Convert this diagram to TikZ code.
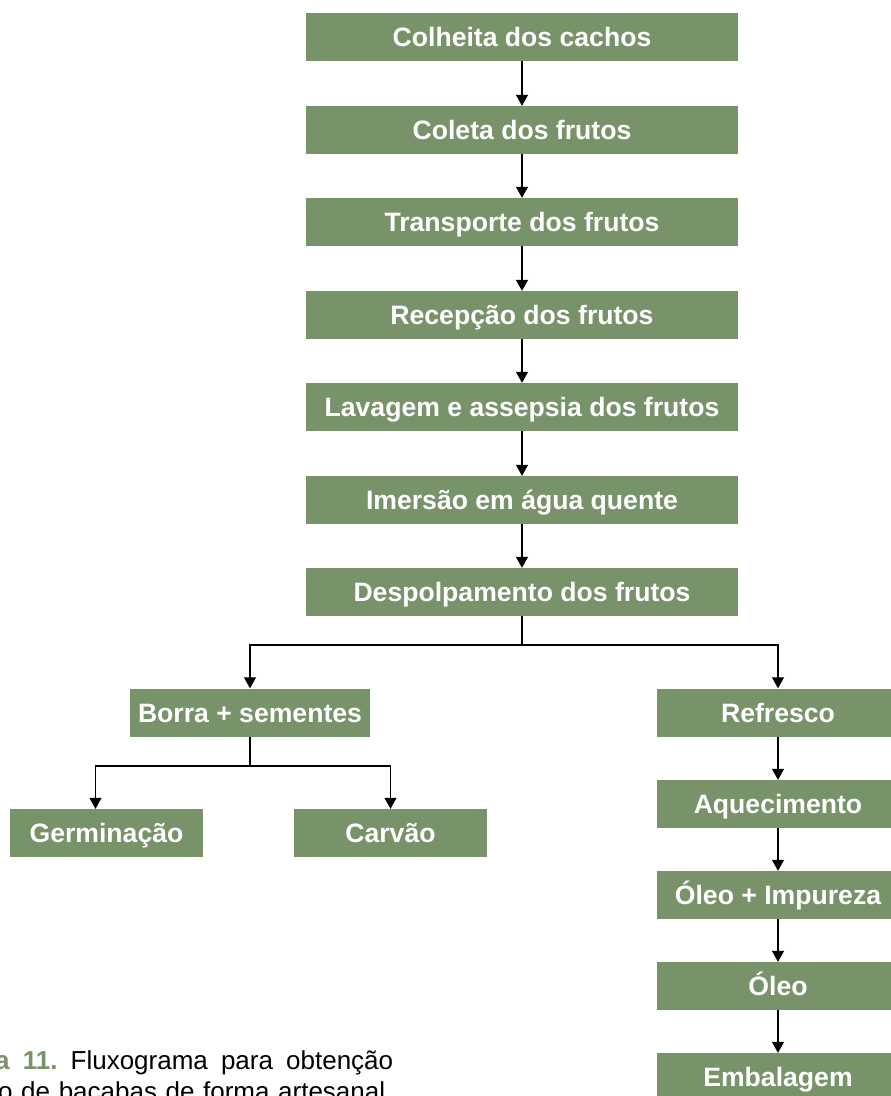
\documentclass[tikz,border=0pt]{standalone}
\usepackage{fontspec}
\setmainfont{Liberation Sans}
\usetikzlibrary{arrows.meta}
\definecolor{bgreen}{RGB}{120,146,106}
\frenchspacing
\begin{document}
\begin{tikzpicture}[x=1pt,y=-1pt,
  box/.style={fill=bgreen,text=white,inner sep=0pt,minimum height=48pt,
    text height=19pt,text depth=0pt,
    font=\bfseries\fontsize{26.6}{30}\selectfont},
  mainbox/.style={box,minimum width=432pt},
  sidebox/.style={box,minimum width=242pt},
  arr/.style={draw=black,line width=1.2pt,-{Triangle[length=11pt,width=12pt]}},
  ln/.style={draw=black,line width=1.2pt},
  captxt/.style={anchor=base west,inner sep=0pt,font=\fontsize{26}{30}\selectfont}]
\useasboundingbox (0,0) rectangle (891,1096);
\begin{scope}
\clip (0,0) rectangle (891,1096);
\node[mainbox] (n1) at (522,37) {Colheita dos cachos};
\node[mainbox] (n2) at (522,130) {Coleta dos frutos};
\node[mainbox] (n3) at (522,222) {Transporte dos frutos};
\node[mainbox] (n4) at (522,315) {Recepção dos frutos};
\node[mainbox] (n5) at (522,407) {Lavagem e assepsia dos frutos};
\node[mainbox] (n6) at (522,500) {Imersão em água quente};
\node[mainbox] (n7) at (522,592) {Despolpamento dos frutos};
\node[box,minimum width=240pt] (borra) at (250,712.5) {Borra + sementes};
\node[box,minimum width=193pt] (germ) at (106.5,833) {Germinação};
\node[box,minimum width=193pt] (carv) at (390.5,833) {Carvão};
\node[sidebox] (r1) at (778,712.5) {Refresco};
\node[sidebox] (r2) at (778,804) {Aquecimento};
\node[sidebox] (r3) at (778,895) {Óleo + Impureza};
\node[sidebox] (r4) at (778,986) {Óleo};
\node[sidebox] (r5) at (778,1077) {Embalagem};
\foreach \a/\b in {n1/n2,n2/n3,n3/n4,n4/n5,n5/n6,n6/n7,r1/r2,r2/r3,r3/r4,r4/r5}
  \draw[arr] (\a.south) -- (\b.north);
\coordinate (split) at (522,645);
\draw[ln] (n7.south) -- (split);
\draw[arr] (split) -| (borra.north);
\draw[arr] (split) -| (r1.north);
\coordinate (split2) at (250,766);
\draw[ln] (borra.south) -- (split2);
\draw[arr] (split2) -| ([xshift=-11pt]germ.north);
\draw[arr] (split2) -| (carv.north);
\node[captxt] (cap1) at (-5,1069) {\makebox[398pt][s]{\textcolor{bgreen}{\bfseries a 11.} Fluxograma para obtenção}};
\node[captxt] (cap2) at (-2,1100) {\makebox[387pt][s]{o de bacabas de forma artesanal}};
\end{scope}
\end{tikzpicture}
\end{document}
